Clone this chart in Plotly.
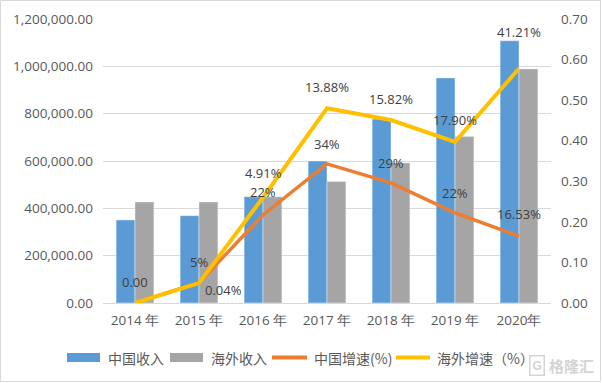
import plotly.graph_objects as go

years = ["2014 年", "2015 年", "2016 年", "2017 年", "2018 年", "2019 年", "2020年"]
china_rev = [351000, 369000, 449000, 600000, 777000, 951000, 1108000]
overseas_rev = [427000, 427000, 449000, 513000, 592000, 703000, 989000]
china_growth = [0.0, 0.05, 0.217, 0.343, 0.296, 0.222, 0.165]
overseas_growth = [0.0, 0.049, 0.26, 0.48, 0.451, 0.397, 0.578]
china_labels = ["", "5%", "22%", "34%", "29%", "22%", "16.53%"]
overseas_labels = ["0.00", "0.04%", "4.91%", "13.88%", "15.82%", "17.90%", "41.21%"]
series_names = ["中国收入", "海外收入", "中国增速(%)", "海外增速（%）"]
series_colors = ["#5B9BD5", "#A5A5A5", "#ED7D31", "#FFC000"]

FONT = "Open Sans"
TICK_COLOR = "#595959"
LABEL_COLOR = "#404040"

fig = go.Figure()
fig.add_trace(go.Bar(x=years, y=china_rev, name=series_names[0], marker_color=series_colors[0]))
fig.add_trace(go.Bar(x=years, y=overseas_rev, name=series_names[1], marker_color=series_colors[1]))
fig.add_trace(go.Scatter(x=years, y=china_growth, name=series_names[2], mode="lines",
                         line=dict(color=series_colors[2], width=3.5), yaxis="y2"))
fig.add_trace(go.Scatter(x=years, y=overseas_growth, name=series_names[3], mode="lines",
                         line=dict(color=series_colors[3], width=4), yaxis="y2"))

L, T, W, H = 103, 19, 448, 284
def px_x(p):
    return (p - L) / W
def px_y(p):
    return (T + H - p) / H

annotations = []
china_shift = [(0, 21), (0, 21), (0, 23), (0, 20), (0, 20), (0, 20), (0, 22)]
over_shift = [(0, 21), (24, -7), (0, 25), (0, 21), (0, 21), (0, 22), (0, 37)]
for i, y in enumerate(years):
    if china_labels[i]:
        annotations.append(dict(x=y, y=china_growth[i], yref="y2", xref="x", text=china_labels[i],
                                showarrow=False, xshift=china_shift[i][0], yshift=china_shift[i][1],
                                font=dict(family=FONT, size=13, color=LABEL_COLOR)))
    annotations.append(dict(x=y, y=overseas_growth[i], yref="y2", xref="x", text=overseas_labels[i],
                            showarrow=False, xshift=over_shift[i][0], yshift=over_shift[i][1],
                            font=dict(family=FONT, size=13, color=LABEL_COLOR)))

shapes = [
    dict(type="rect", xref="paper", yref="paper", x0=px_x(0.5), x1=px_x(600.5), y0=px_y(381.5), y1=px_y(0.5),
         line=dict(color="#D9D9D9", width=1)),
]

# manual legend (key symbols + texts)
leg_y = 357.5
leg_items = [  # (symbol x0, x1, text x, kind)
    (67, 100, 106, "box"),
    (170, 203, 209, "box"),
    (272, 307, 312, "line"),
    (396, 430, 435, "line"),
]
for (x0, x1, tx, kind), name, col in zip(leg_items, series_names, series_colors):
    if kind == "box":
        shapes.append(dict(type="rect", xref="paper", yref="paper", x0=px_x(x0), x1=px_x(x1),
                           y0=px_y(leg_y + 4.5), y1=px_y(leg_y - 4.5), fillcolor=col, line=dict(width=0)))
    else:
        shapes.append(dict(type="line", xref="paper", yref="paper", x0=px_x(x0), x1=px_x(x1),
                           y0=px_y(leg_y), y1=px_y(leg_y), line=dict(color=col, width=4)))
    annotations.append(dict(xref="paper", yref="paper", x=px_x(tx), y=px_y(leg_y), text=name,
                            showarrow=False, xanchor="left", yanchor="middle",
                            font=dict(family="Noto Sans CJK SC", size=14, color=TICK_COLOR)))

# watermark
annotations.append(dict(xref="paper", yref="paper", x=px_x(548), y=px_y(365), text="<b>格隆汇</b>",
                        showarrow=False, xanchor="left", yanchor="middle", borderpad=0,
                        font=dict(family="Noto Sans CJK SC", size=15, color="#D4D4D4")))
annotations.append(dict(xref="paper", yref="paper", x=px_x(545), y=px_y(365), text="<b>G</b>",
                        showarrow=False, xanchor="right", yanchor="middle", borderpad=2,
                        bordercolor="#D4D4D4", borderwidth=1.5,
                        font=dict(family="Liberation Sans", size=12, color="#D4D4D4")))

fig.update_layout(
    width=602, height=383,
    margin=dict(l=L, r=602 - L - W, t=T, b=383 - T - H, autoexpand=False),
    paper_bgcolor="white", plot_bgcolor="white",
    barmode="group", bargap=0.41, bargroupgap=0,
    font=dict(family=FONT, size=13, color=TICK_COLOR),
    xaxis=dict(showgrid=False, showline=True, linecolor="#D9D9D9", linewidth=1, ticks="",
               tickfont=dict(family=FONT, size=13.5, color=TICK_COLOR), ticklabelstandoff=5),
    yaxis=dict(range=[0, 1200000], dtick=200000, tickformat=",.2f", showgrid=True,
               gridcolor="#D9D9D9", gridwidth=1, zeroline=False, showline=False, ticks="",
               ticklabelstandoff=9, tickfont=dict(family=FONT, size=13.5, color=TICK_COLOR)),
    yaxis2=dict(range=[0, 0.7], dtick=0.1, tickformat=".2f", overlaying="y", side="right",
                showgrid=False, zeroline=False, showline=False, ticks="", ticklabelstandoff=9,
                tickfont=dict(family=FONT, size=13.5, color=TICK_COLOR)),
    annotations=annotations,
    shapes=shapes,
    showlegend=False,
)

fig.write_html("out.html", config={"displayModeBar": False},
               post_script="document.body.style.margin='0';")
